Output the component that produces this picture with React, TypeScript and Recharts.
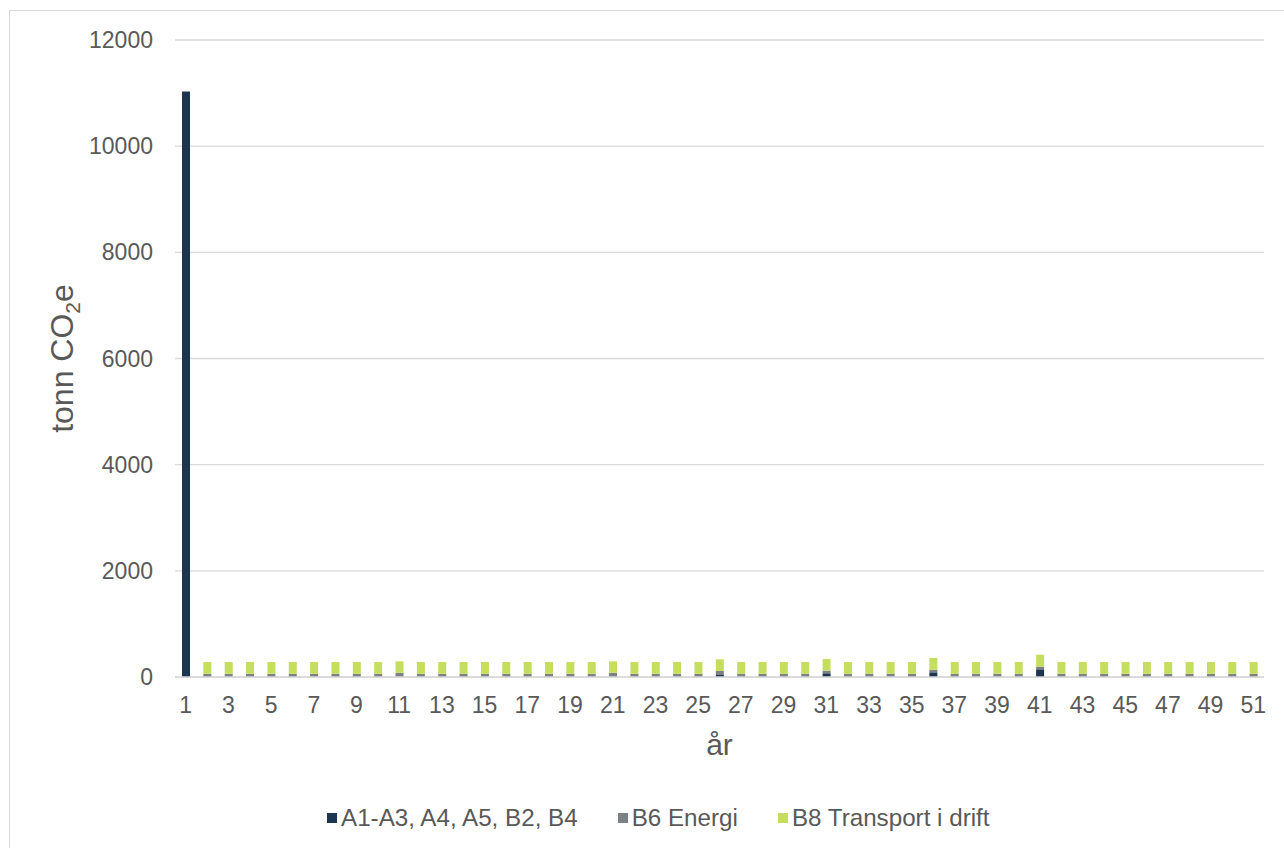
import { BarChart, Bar, XAxis, YAxis, CartesianGrid, Legend } from "recharts"

const years = [
  "1", "2", "3", "4", "5", "6", "7", "8", "9", "10",
  "11", "12", "13", "14", "15", "16", "17", "18", "19", "20",
  "21", "22", "23", "24", "25", "26", "27", "28", "29", "30",
  "31", "32", "33", "34", "35", "36", "37", "38", "39", "40",
  "41", "42", "43", "44", "45", "46", "47", "48", "49", "50", "51",
]

// A1-A3, A4, A5, B2, B4
const materials = [
  11030, 0, 0, 0, 0, 0, 0, 0, 0, 0,
  0, 0, 0, 0, 0, 0, 0, 0, 0, 0,
  0, 0, 0, 0, 0, 38, 0, 0, 0, 0,
  70, 0, 0, 0, 0, 88, 0, 0, 0, 0,
  145, 0, 0, 0, 0, 0, 0, 0, 0, 0, 0,
]

// B6 Energi
const energy = [
  0, 60, 60, 60, 60, 60, 60, 60, 60, 60,
  80, 60, 60, 60, 60, 60, 60, 60, 60, 60,
  80, 60, 60, 60, 60, 75, 60, 60, 60, 60,
  50, 60, 60, 60, 60, 50, 60, 60, 60, 60,
  50, 60, 60, 60, 60, 60, 60, 60, 60, 60, 60,
]

// B8 Transport i drift
const transport = [
  0, 222, 222, 222, 222, 222, 222, 222, 222, 222,
  215, 222, 222, 222, 222, 222, 222, 222, 222, 222,
  215, 222, 222, 222, 222, 220, 222, 222, 222, 222,
  220, 222, 222, 222, 222, 220, 222, 222, 222, 222,
  225, 222, 222, 222, 222, 222, 222, 222, 222, 222, 222,
]

const yTicks = [0, 2000, 4000, 6000, 8000, 10000, 12000]

const seriesNames = ["A1-A3, A4, A5, B2, B4", "B6 Energi", "B8 Transport i drift"]
const seriesColors = ["#1d3650", "#7c8186", "#c5de5e"]

const data = years.map((y, i) => ({
  year: y,
  a: materials[i],
  b6: energy[i],
  b8: transport[i],
}))

const FONT = "'Liberation Sans', Arial, sans-serif"
const TEXT = "#595959"

const YTitle = (props: any) => {
  const vb = props.viewBox || {}
  const cx = 52
  const cy = vb.y + vb.height / 2
  return (
    <text
      x={cx}
      y={cy}
      transform={`rotate(-90 ${cx} ${cy})`}
      textAnchor="middle"
      dy="0.35em"
      fill={TEXT}
      fontSize={32}
      fontFamily={FONT}
    >
      tonn CO
      <tspan fontSize={21} dy={7}>2</tspan>
      <tspan dy={-7}>e</tspan>
    </text>
  )
}

const XTitle = (props: any) => {
  const vb = props.viewBox || {}
  return (
    <text
      x={vb.x + vb.width / 2}
      y={744}
      textAnchor="middle"
      fill={TEXT}
      fontSize={30}
      fontFamily={FONT}
    >
      år
    </text>
  )
}

const LegendContent = () => (
  <div
    style={{
      display: "flex",
      alignItems: "center",
      height: 40,
      paddingLeft: 317,
      fontFamily: FONT,
      fontSize: 24.2,
      color: TEXT,
    }}
  >
    {seriesNames.map((name, i) => (
      <div key={name} style={{ display: "flex", alignItems: "center", marginRight: 40 }}>
        <span style={{ width: 10, height: 10, background: seriesColors[i], marginRight: 4 }} />
        <span>{name}</span>
      </div>
    ))}
  </div>
)

export default function App() {
  return (
    <div
      style={{
        position: "absolute",
        left: 9,
        top: 10,
        width: 1274,
        height: 837,
        borderTop: "1px solid #d9d9d9",
        borderLeft: "1px solid #d9d9d9",
        background: "#fff",
      }}
    >
      <BarChart
        width={1274}
        height={837}
        data={data}
        barSize={8}
        margin={{ top: 29, right: 20, bottom: 10, left: 0 }}
      >
        <CartesianGrid vertical={false} stroke="#d9d9d9" strokeWidth={1.3} />
        <XAxis
          dataKey="year"
          interval={1}
          height={121}
          tickLine={false}
          tickMargin={14}
          axisLine={{ stroke: "#d9d9d9", strokeWidth: 1.3 }}
          tick={{ fill: TEXT, fontSize: 23, fontFamily: FONT }}
          label={<XTitle />}
        />
        <YAxis
          width={165}
          domain={[0, 12000]}
          ticks={yTicks}
          tickLine={false}
          axisLine={false}
          tickMargin={16}
          tick={{ fill: TEXT, fontSize: 23, fontFamily: FONT }}
          label={<YTitle />}
        />
        <Legend verticalAlign="bottom" content={<LegendContent />} />
        <Bar dataKey="a" stackId="s" fill={seriesColors[0]} isAnimationActive={false} />
        <Bar dataKey="b6" stackId="s" fill={seriesColors[1]} isAnimationActive={false} />
        <Bar dataKey="b8" stackId="s" fill={seriesColors[2]} isAnimationActive={false} />
      </BarChart>
    </div>
  )
}
